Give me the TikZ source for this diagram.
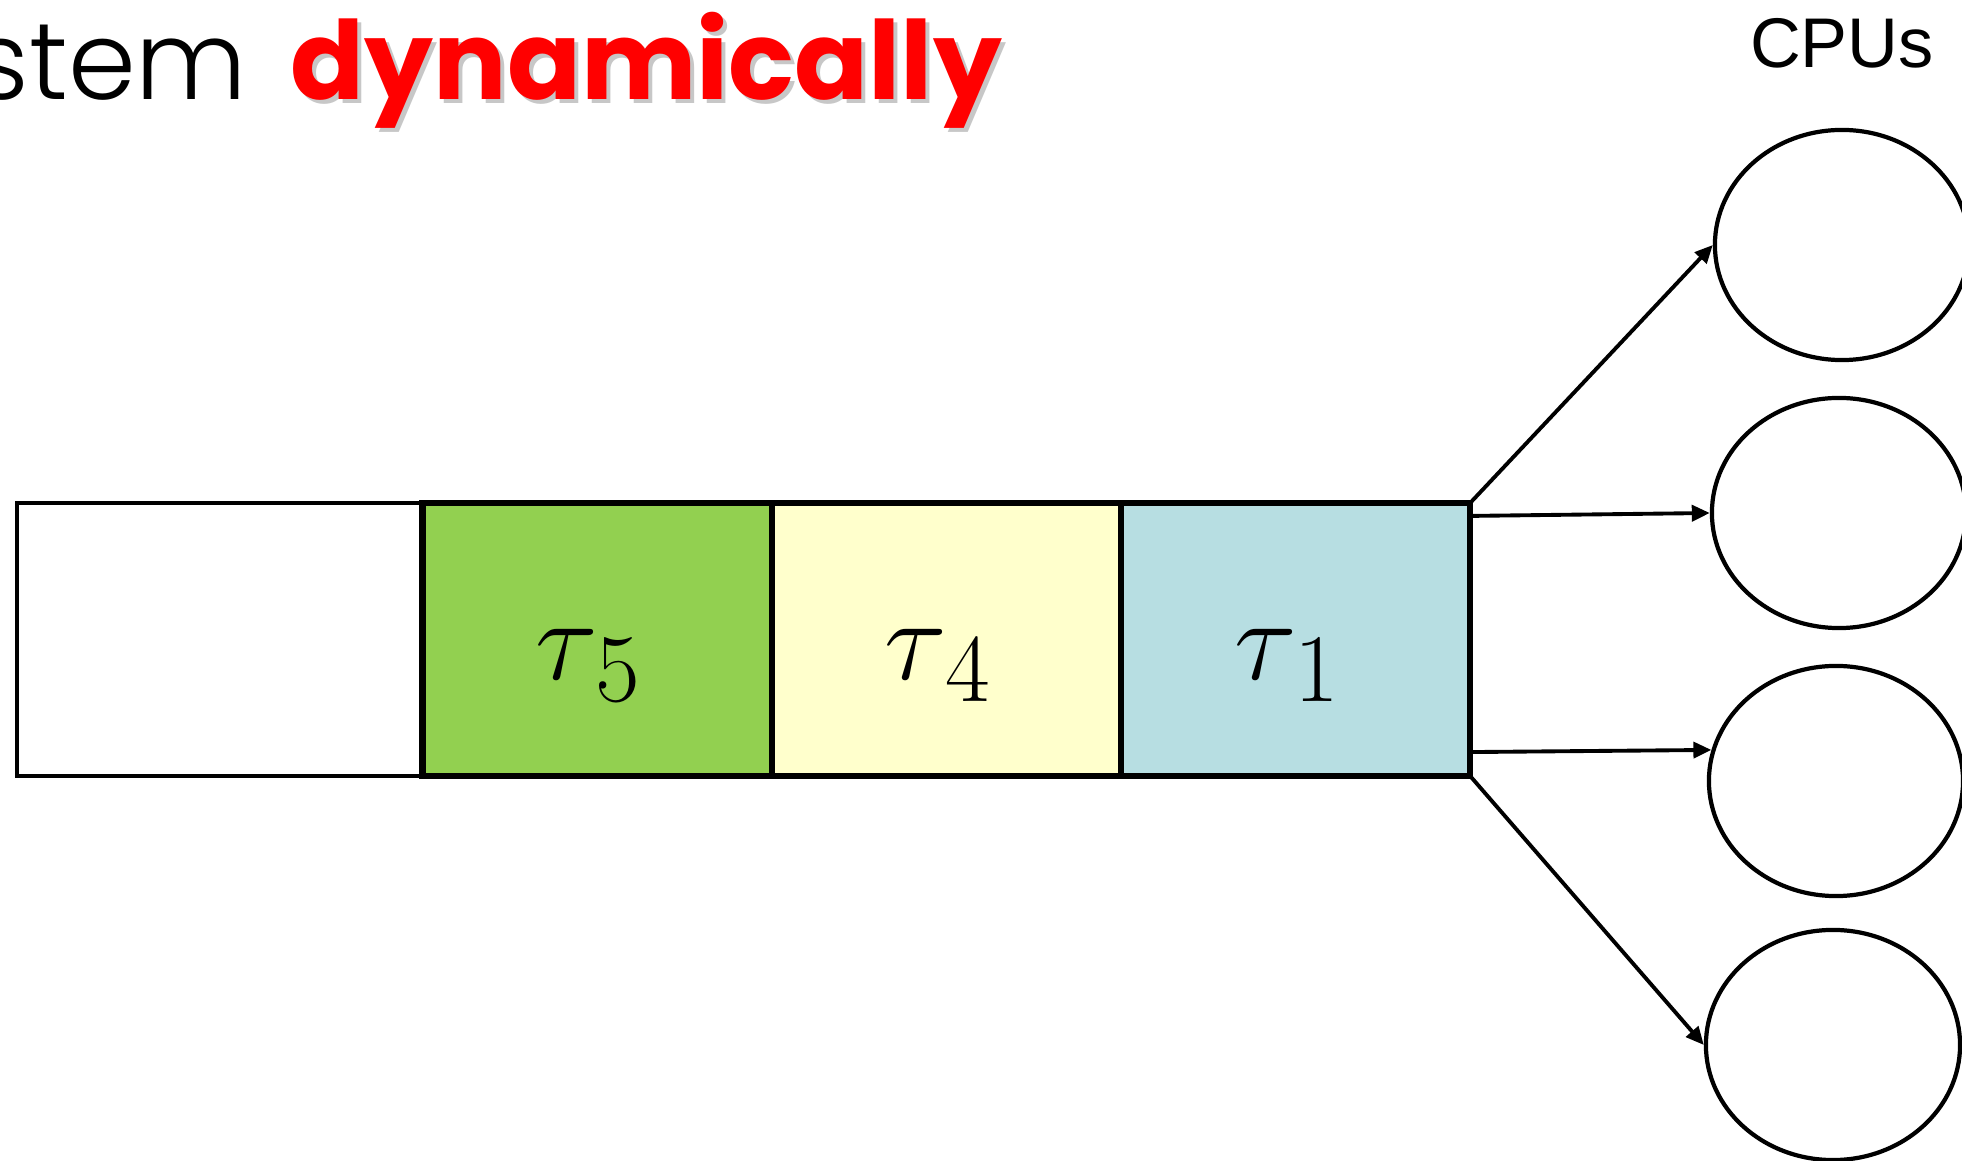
\documentclass[tikz,border=0pt]{standalone}
\usepackage{fontspec}
\usepackage{amsmath}
\usetikzlibrary{arrows.meta, positioning, shapes.geometric}
\newfontfamily\headfont{Poppins}[UprightFont=* Light, BoldFont=* Bold]
\newfontfamily\labelfont{Liberation Sans}
\definecolor{taskgreen}{RGB}{146,208,80}
\definecolor{taskyellow}{RGB}{255,255,204}
\definecolor{taskblue}{RGB}{183,222,226}
\tikzset{
  slot/.style     = {draw, line width=1.1pt, minimum width=4.05cm, minimum height=2.73cm, inner sep=0pt, outer sep=0pt},
  task/.style     = {slot, line width=1.8pt, minimum width=3.49cm},
  tasklbl/.style  = {font=\fontsize{24.88}{28}\selectfont, inner sep=0pt},
  cpu/.style      = {ellipse, draw, line width=1.2pt, minimum width=2.54cm, minimum height=2.30cm, inner sep=0pt},
  dispatch/.style = {-{Triangle[length=1.8mm, width=1.6mm]}, line width=1.1pt},
  heading/.style  = {font=\headfont\fontsize{31}{34}\selectfont, inner sep=0pt},
  lbl/.style      = {font=\labelfont\fontsize{20}{24}\selectfont, inner sep=0pt},
}
\newcommand{\tasklabel}[1]{\scalebox{1.33}{$\tau_{\mkern2mu #1}$}}

\begin{document}
\begin{tikzpicture}[x=0.01cm, y=-0.01cm]
  \useasboundingbox (0,0) rectangle (1962,1161);
  \clip (0,0) rectangle (1962,1161);
  \fill[white] (0,0) rectangle (1962,1161);

  % heading, cut at the left edge
  \node[heading, anchor=base west, text=black!22] (dynshadow) at (294,104) {\bfseries dynamically};
  \node[heading, anchor=base west, text=red] (dyn) at (290,100) {\bfseries dynamically};
  \node[heading, anchor=base east] (stem) at (248,100) {stem};

  % ready queue
  \node[slot] (q0) at (220,639.5) {};
  \node[task, fill=taskgreen, right=0pt of q0] (tau5) {};
  \node[task, fill=taskyellow, right=0pt of tau5] (tau4) {};
  \node[task, fill=taskblue, right=0pt of tau4] (tau1) {};
  \node[tasklbl] (lbl5) at ([xshift=-0.08cm, yshift=-0.26cm]tau5.center) {\tasklabel{5}};
  \node[tasklbl] (lbl4) at ([xshift=-0.08cm, yshift=-0.26cm]tau4.center) {\tasklabel{4}};
  \node[tasklbl] (lbl1) at ([xshift=-0.08cm, yshift=-0.26cm]tau1.center) {\tasklabel{1}};

  % processors
  \node[cpu] (cpu1) at (1842,245) {};
  \node[cpu] (cpu2) at (1839,513) {};
  \node[cpu] (cpu3) at (1836,781) {};
  \node[cpu] (cpu4) at (1833,1045) {};
  \node[lbl, anchor=base, above=0.59cm of cpu1] (cpus) {CPUs};

  \draw[dispatch] (tau1.north east) -- (cpu1.west);
  \draw[dispatch] ([yshift=-0.13cm]tau1.north east) -- (cpu2.west);
  \draw[dispatch] ([yshift=0.24cm]tau1.south east) -- (cpu3.166);
  \draw[dispatch] (tau1.south east) -- (cpu4.west);
\end{tikzpicture}
\end{document}
